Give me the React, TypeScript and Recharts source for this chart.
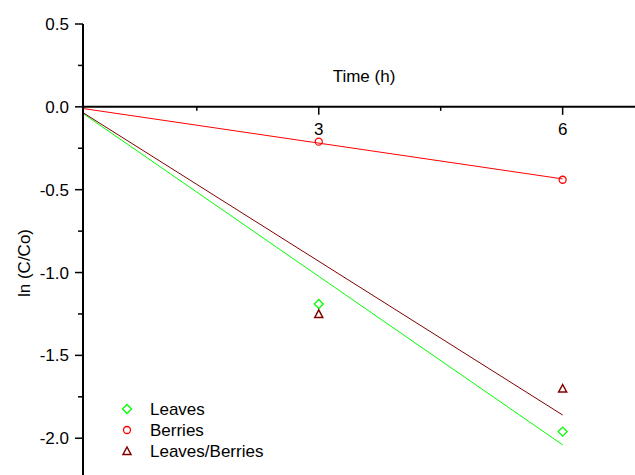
import React from 'react';
import { ComposedChart, Line, Scatter, XAxis, YAxis, ReferenceLine, Legend } from 'recharts';

// measured points (t in h, ln C/Co)
const TIME_H = [3, 6];
const LEAVES = [-1.19, -1.96];
const BERRIES = [-0.21, -0.44];
const LEAVES_BERRIES = [-1.25, -1.7];

// fitted lines (end points)
const FIT_X = [0.1, 6];
const LEAVES_FIT = [-0.04, -2.04];
const BERRIES_FIT = [-0.01, -0.435];
const LEAVES_BERRIES_FIT = [-0.035, -1.86];

const X_TICKS = [1.5, 3, 4.5, 6];
const Y_TICKS = [-2, -1.75, -1.5, -1.25, -1, -0.75, -0.5, -0.25, 0, 0.25, 0.5];

const W = 635;
const H = 475;
const TOP = 24;
const X_AXIS_H = 20;
const AXIS_X = 83;
const Y_DOMAIN: [number, number] = [-2.222, 0.5];
const X_DOMAIN: [number, number] = [0.1, 6.89];
const FONT = '"Liberation Sans", Arial, sans-serif';
const FS = 17;

const GREEN = '#00ff00';
const RED = '#ff0000';
const WINE = '#800000';

const toPts = (xs: number[], ys: number[]) => xs.map((x, i) => ({ x, y: ys[i] }));

// y pixel of the value 0, where the time axis is drawn
const Y0 = TOP + ((Y_DOMAIN[1] - 0) / (Y_DOMAIN[1] - Y_DOMAIN[0])) * (H - TOP);

const Marker = ({ kind, cx, cy, color }: { kind: string; cx: number; cy: number; color: string }) => {
  if (kind === 'diamond') {
    return (
      <polygon
        points={`${cx},${cy - 4.5} ${cx + 4.5},${cy} ${cx},${cy + 4.5} ${cx - 4.5},${cy}`}
        fill="none"
        stroke={color}
        strokeWidth={1.3}
      />
    );
  }
  if (kind === 'circle') {
    return <circle cx={cx} cy={cy} r={3.5} fill="none" stroke={color} strokeWidth={1.3} />;
  }
  return (
    <polygon
      points={`${cx},${cy - 4} ${cx + 4},${cy + 3.5} ${cx - 4},${cy + 3.5}`}
      fill="none"
      stroke={color}
      strokeWidth={1.5}
    />
  );
};

const YTick = (props: any) => {
  const { y, payload } = props;
  const v = payload.value;
  const major = Math.abs(v * 2 - Math.round(v * 2)) < 1e-6;
  return (
    <g>
      <line x1={AXIS_X} x2={AXIS_X - (major ? 8 : 5)} y1={y} y2={y} stroke="#000" strokeWidth={1.5} />
      {major && (
        <text x={AXIS_X - 14} y={y} dy="0.36em" textAnchor="end" fontSize={FS} fontFamily={FONT} fill="#000">
          {v.toFixed(1)}
        </text>
      )}
    </g>
  );
};

const XTick = (props: any) => {
  const { x, payload } = props;
  const v = payload.value;
  const major = Number.isInteger(v);
  return (
    <g>
      <line x1={x} x2={x} y1={Y0} y2={Y0 + (major ? 8 : 4)} stroke="#000" strokeWidth={1.5} />
      {major && (
        <text x={x} y={Y0 + 28} textAnchor="middle" fontSize={FS} fontFamily={FONT} fill="#000">
          {v}
        </text>
      )}
    </g>
  );
};

const LEGEND_ITEMS = [
  { name: 'Leaves', kind: 'diamond', color: GREEN },
  { name: 'Berries', kind: 'circle', color: RED },
  { name: 'Leaves/Berries', kind: 'triangle', color: WINE },
];

const LegendBox = () => (
  <svg width={200} height={70}>
    {LEGEND_ITEMS.map((it, i) => (
      <g key={it.name}>
        <Marker kind={it.kind} cx={9} cy={11 + i * 21} color={it.color} />
        <text x={32} y={11 + i * 21} dy="0.36em" fontSize={FS} fontFamily={FONT} fill="#000">
          {it.name}
        </text>
      </g>
    ))}
  </svg>
);

export default function App() {
  return (
    <div style={{ position: 'absolute', left: 0, top: 0, background: '#fff' }}>
      <ComposedChart width={W} height={H} margin={{ top: TOP - X_AXIS_H, right: 0, bottom: 0, left: 0 }}>
        <XAxis
          type="number"
          dataKey="x"
          orientation="top"
          height={X_AXIS_H}
          domain={X_DOMAIN}
          ticks={X_TICKS}
          interval={0}
          allowDataOverflow
          axisLine={false}
          tickLine={false}
          tick={<XTick />}
          label={{
            content: () => (
              <text x={364} y={82} textAnchor="middle" fontSize={FS} fontFamily={FONT} fill="#000">
                Time (h)
              </text>
            ),
          }}
        />
        <YAxis
          type="number"
          dataKey="y"
          width={AXIS_X}
          domain={Y_DOMAIN}
          ticks={Y_TICKS}
          interval={0}
          allowDataOverflow
          axisLine={{ stroke: '#000', strokeWidth: 2 }}
          tickLine={false}
          tickSize={0}
          tickMargin={0}
          tick={<YTick />}
          label={{
            content: () => (
              <text
                transform={`translate(30,263) rotate(-90)`}
                textAnchor="middle"
                fontSize={FS}
                fontFamily={FONT}
                fill="#000"
              >
                ln (C/Co)
              </text>
            ),
          }}
        />
        <ReferenceLine y={0} stroke="#000" strokeWidth={2} />
        <Line data={toPts(FIT_X, LEAVES_FIT)} dataKey="y" stroke={GREEN} strokeWidth={1} dot={false} isAnimationActive={false} />
        <Line data={toPts(FIT_X, LEAVES_BERRIES_FIT)} dataKey="y" stroke={WINE} strokeWidth={1} dot={false} isAnimationActive={false} />
        <Line data={toPts(FIT_X, BERRIES_FIT)} dataKey="y" stroke={RED} strokeWidth={1} dot={false} isAnimationActive={false} />
        <Scatter
          data={toPts(TIME_H, LEAVES)}
          isAnimationActive={false}
          shape={(p: any) => <Marker kind="diamond" cx={p.cx} cy={p.cy} color={GREEN} />}
        />
        <Scatter
          data={toPts(TIME_H, BERRIES)}
          isAnimationActive={false}
          shape={(p: any) => <Marker kind="circle" cx={p.cx} cy={p.cy} color={RED} />}
        />
        <Scatter
          data={toPts(TIME_H, LEAVES_BERRIES)}
          isAnimationActive={false}
          shape={(p: any) => <Marker kind="triangle" cx={p.cx} cy={p.cy} color={WINE} />}
        />
        <Legend
          layout="vertical"
          align="center"
          verticalAlign="middle"
          wrapperStyle={{ left: 118, top: 398, width: 200 }}
          content={() => <LegendBox />}
        />
      </ComposedChart>
    </div>
  );
}
